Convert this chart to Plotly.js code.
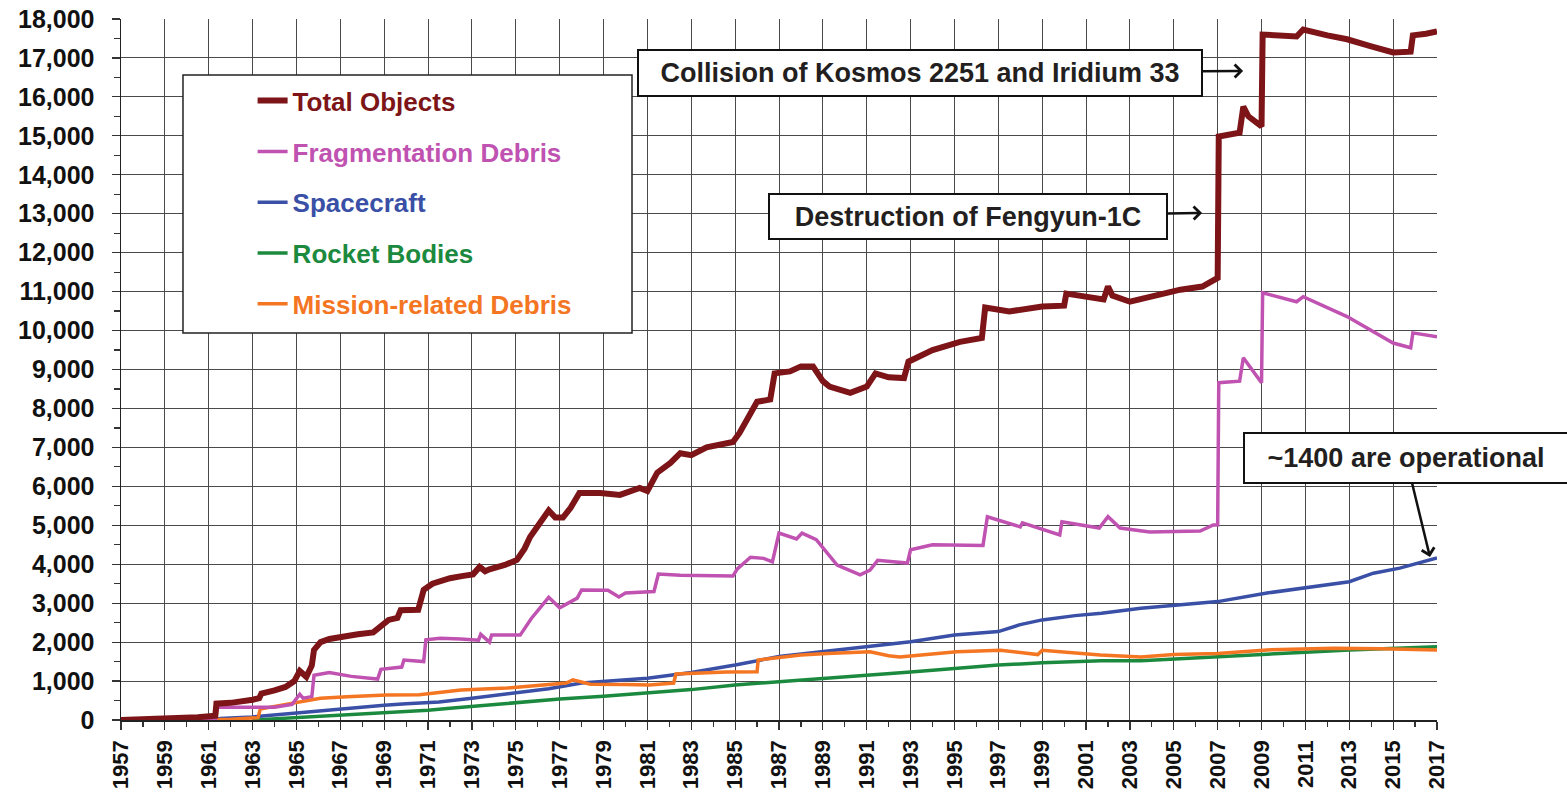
<!DOCTYPE html>
<html>
<head>
<meta charset="utf-8">
<script src="https://cdn.plot.ly/plotly-3.0.1.min.js"></script>
<style>html,body{margin:0;padding:0;background:#fff;}#chart{width:1567px;height:796px;}</style>
</head>
<body>
<div id="chart"></div>
<script>
// ---------- data ----------
const seriesNames = ['Total Objects','Fragmentation Debris','Spacecraft','Rocket Bodies','Mission-related Debris'];
const seriesColors = ['#7d1518','#c052b1','#3a4fa6','#1c8a3e','#f47522'];

const totalYears = [1957.0,1957.8,1958.5,1959.5,1960.5,1961.3,1961.35,1962.0,1962.6,1963.0,1963.3,1963.4,1964.0,1964.5,1964.9,1965.15,1965.45,1965.7,1965.8,1966.1,1966.5,1967.0,1967.8,1968.5,1968.9,1969.2,1969.6,1969.75,1970.55,1970.8,1971.2,1972.0,1972.6,1973.05,1973.35,1973.6,1973.8,1974.5,1975.05,1975.4,1975.65,1976.1,1976.5,1976.8,1977.15,1977.5,1977.9,1978.85,1979.75,1980.65,1981.0,1981.45,1982.05,1982.5,1983.0,1983.7,1984.9,1985.2,1985.7,1986.0,1986.6,1986.8,1987.5,1988.0,1988.55,1989.0,1989.3,1990.25,1991.0,1991.4,1992.0,1992.7,1992.9,1994.0,1995.25,1996.25,1996.4,1997.5,1999.0,2000.0,2000.1,2001.2,2001.8,2002.0,2002.2,2003.0,2004.0,2005.3,2006.3,2006.9,2007.0,2007.05,2008.0,2008.17,2008.4,2009.0,2009.05,2010.6,2010.9,2012.0,2012.9,2014.0,2015.0,2015.8,2015.9,2016.5,2017.0];
const totalObjects = [0,10,30,45,70,110,420,440,470,520,560,680,760,850,1000,1260,1110,1400,1800,2000,2080,2140,2200,2250,2450,2570,2620,2820,2830,3340,3500,3640,3700,3740,3930,3820,3870,3980,4110,4400,4700,5060,5380,5200,5200,5450,5830,5830,5780,5960,5880,6350,6600,6850,6800,7000,7140,7370,7840,8170,8230,8900,8950,9080,9080,8700,8560,8400,8560,8900,8800,8780,9200,9500,9710,9810,10590,10490,10620,10640,10950,10840,10800,11130,10900,10740,10880,11050,11130,11350,11350,14980,15080,15750,15500,15240,17600,17550,17730,17580,17480,17300,17140,17160,17580,17620,17680];

const fragYears = [1957.0,1961.3,1961.4,1962.5,1964.0,1964.8,1965.15,1965.3,1965.7,1965.8,1966.5,1967.5,1968.7,1968.85,1969.8,1969.9,1970.8,1970.9,1971.55,1972.5,1973.3,1973.4,1973.8,1973.9,1975.2,1975.7,1976.1,1976.5,1977.0,1977.8,1978.0,1979.2,1979.7,1980.0,1981.3,1981.5,1982.5,1984.9,1985.1,1985.7,1986.3,1986.7,1987.0,1987.8,1988.05,1988.7,1989.65,1990.7,1991.15,1991.5,1992.85,1993.0,1994.0,1996.3,1996.5,1998.0,1998.1,1999.8,1999.9,2001.6,2002.0,2002.55,2003.9,2006.2,2006.8,2007.0,2007.05,2008.0,2008.17,2009.0,2009.05,2010.6,2010.9,2012.9,2015.0,2015.8,2015.9,2017.0];
const fragmentationDebris = [0,0,330,330,330,400,660,560,600,1150,1220,1120,1050,1300,1360,1540,1500,2060,2100,2080,2050,2200,2000,2180,2180,2600,2880,3150,2880,3130,3340,3330,3160,3260,3300,3750,3720,3700,3880,4180,4150,4060,4800,4650,4800,4630,3980,3730,3850,4100,4030,4370,4500,4480,5220,4960,5060,4750,5090,4930,5220,4930,4830,4850,5010,5010,8660,8700,9300,8660,10970,10740,10870,10360,9680,9560,9940,9840];

const scYears = [1957.8,1960.0,1961.5,1963.0,1964.0,1965.0,1966.0,1967.0,1968.0,1969.0,1970.0,1971.5,1973.0,1975.0,1976.5,1978.0,1979.0,1981.0,1983.0,1985.0,1987.0,1989.0,1991.0,1993.0,1995.0,1997.0,1998.0,1999.0,2000.5,2001.7,2003.5,2005.0,2007.0,2009.25,2011.0,2013.0,2014.1,2015.3,2017.0];
const spacecraft = [0,20,40,80,130,200,250,300,340,380,420,460,560,700,800,950,990,1070,1220,1410,1630,1750,1880,2010,2180,2270,2450,2570,2680,2740,2870,2950,3040,3260,3400,3550,3770,3900,4160];

const rbYears = [1963.0,1964.0,1965.0,1967.0,1969.0,1971.0,1972.0,1975.0,1977.0,1979.0,1981.0,1983.0,1985.0,1987.0,1989.0,1991.0,1993.0,1995.0,1997.0,1999.0,2001.7,2003.5,2005.0,2007.0,2009.0,2011.0,2013.0,2015.0,2017.0];
const rocketBodies = [0,30,70,130,190,250,300,450,540,610,690,780,900,990,1070,1150,1230,1320,1410,1470,1520,1520,1560,1620,1670,1740,1800,1830,1880];

const mrdYears = [1957.0,1960.0,1962.0,1963.25,1963.35,1964.0,1964.85,1966.1,1967.3,1969.1,1970.6,1971.5,1972.5,1974.6,1976.0,1977.3,1977.6,1978.4,1980.0,1981.1,1982.2,1982.3,1984.6,1986.0,1986.05,1988.0,1989.2,1991.15,1992.0,1992.5,1995.1,1997.1,1998.8,1999.0,2001.65,2003.5,2005.0,2007.0,2009.25,2012.3,2014.5,2017.0];
const missionDebris = [0,10,20,60,280,350,430,560,600,640,650,700,770,820,880,950,1030,920,910,900,950,1180,1230,1240,1540,1670,1710,1750,1650,1620,1750,1790,1680,1790,1670,1620,1680,1710,1800,1840,1830,1800];

const xTickLabels = ['1957','1959','1961','1963','1965','1967','1969','1971','1973','1975','1977','1979','1981','1983','1985','1987','1989','1991','1993','1995','1997','1999','2001','2003','2005','2007','2009','2011','2013','2015','2017'];
const yTickLabels = ['0','1,000','2,000','3,000','4,000','5,000','6,000','7,000','8,000','9,000','10,000','11,000','12,000','13,000','14,000','15,000','16,000','17,000','18,000'];

const noteTexts = ['Collision of Kosmos 2251 and Iridium 33','Destruction of Fengyun-1C','~1400 are operational'];
const noteTargets = [[2008.16,16665],[2006.29,13020],[2016.68,4185]];

// ---------- chart ----------
const FONT = 'Liberation Sans, Arial, Helvetica, sans-serif';
const xs = [totalYears,fragYears,scYears,rbYears,mrdYears];
const ys = [totalObjects,fragmentationDebris,spacecraft,rocketBodies,missionDebris];
const widths = [6,3.5,3.5,3.5,3.5];
const drawOrder = [3,2,4,1,0];

const traces = drawOrder.map(i => ({
  type:'scatter', mode:'lines', x:xs[i], y:ys[i],
  name:'<span style="color:'+seriesColors[i]+'"><b>'+seriesNames[i]+'</b></span>',
  line:{color:seriesColors[i], width:widths[i]},
  legendrank:i+1, legendgroup:'g'+i, hoverinfo:'skip'
}));

const tickVals = xTickLabels.map(Number);
const yVals = yTickLabels.map(s => Number(s.replace(/,/g,'')));

const boxW = [558,392,318];
const boxH = [40,39,44];
const offs = [[-323,2],[-234,4],[-24,-99]];
const annotations = noteTexts.map((t,k) => ({
  x:noteTargets[k][0], y:noteTargets[k][1], xref:'x', yref:'y',
  text:'<b>'+t+'</b>', showarrow:true, ax:offs[k][0], ay:offs[k][1],
  arrowhead:4, arrowsize:1, arrowwidth:2.5, arrowcolor:'#111', standoff:0,
  font:{family:FONT, size:27, color:'#231f20'},
  bgcolor:'#ffffff', bordercolor:'#111', borderwidth:2, borderpad:2,
  width:boxW[k], height:boxH[k], align:'center'
}));

const layout = {
  width:1567, height:796,
  margin:{l:121, r:130, t:19, b:76},
  paper_bgcolor:'#ffffff', plot_bgcolor:'#ffffff',
  showlegend:true,
  legend:{x:0.1, y:0.917, xanchor:'left', yanchor:'top', bgcolor:'rgba(0,0,0,0)', borderwidth:0,
          font:{family:FONT, size:26}, traceorder:'grouped', tracegroupgap:14},
  xaxis:{range:[1957,2017], tickmode:'array', tickvals:tickVals, ticktext:xTickLabels,
         tickangle:-90, tickfont:{family:FONT, size:22, color:'#111', weight:'bold'},
         ticks:'outside', ticklen:8, tickwidth:1.2, tickcolor:'#333', ticklabelstandoff:2,
         showgrid:true, gridcolor:'#4a4a4a', gridwidth:1,
         showline:true, linecolor:'#222', linewidth:1.5, zeroline:false,
         minor:{tickmode:'linear', tick0:1957, dtick:1, ticks:'outside', ticklen:5, tickcolor:'#333', showgrid:false}},
  yaxis:{range:[0,18000], tickmode:'array', tickvals:yVals, ticktext:yTickLabels,
         tickfont:{family:FONT, size:25, color:'#111', weight:'bold'},
         ticks:'outside', ticklen:8, tickwidth:1.2, tickcolor:'#333', ticklabelstandoff:12,
         showgrid:true, gridcolor:'#4a4a4a', gridwidth:1,
         showline:true, linecolor:'#222', linewidth:1.5, zeroline:false,
         minor:{tickmode:'linear', tick0:0, dtick:500, ticks:'outside', ticklen:6, tickcolor:'#333', showgrid:false}},
  shapes:[{type:'rect', xref:'paper', yref:'paper', x0:0.0471, x1:0.3883, y0:0.552, y1:0.9201,
           fillcolor:'#ffffff', line:{color:'#222', width:1.5}, layer:'above'}],
  annotations:annotations
};

Plotly.newPlot('chart', traces, layout, {staticPlot:true, displayModeBar:false});
</script>
</body>
</html>
